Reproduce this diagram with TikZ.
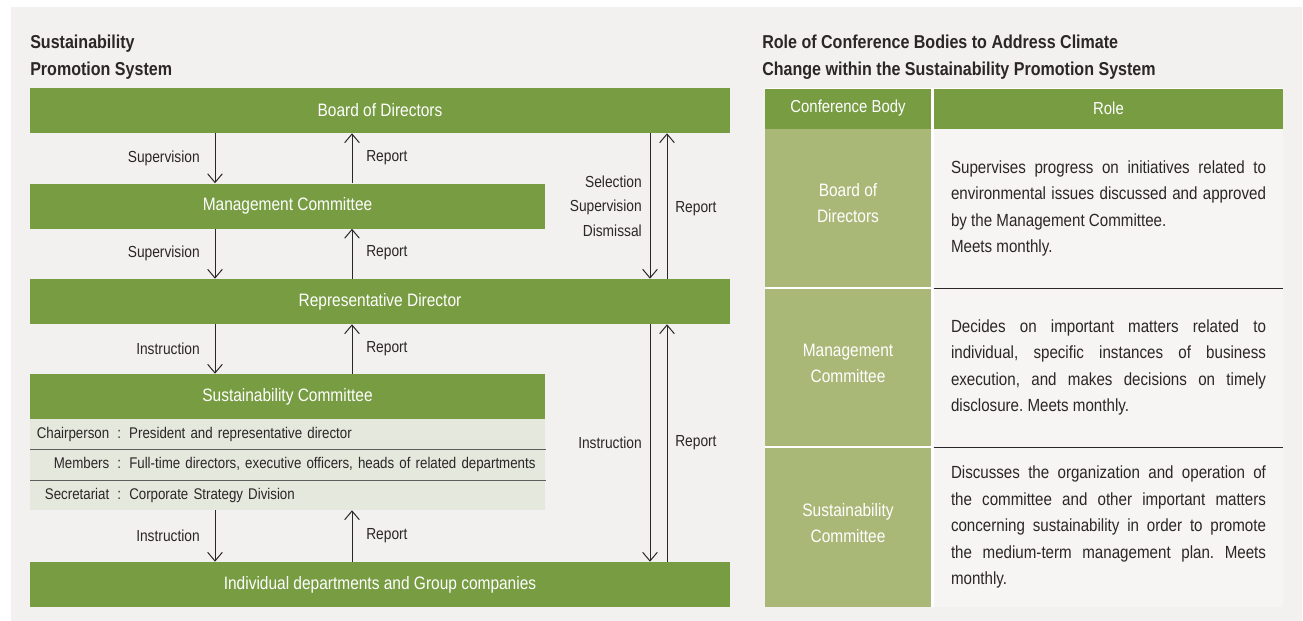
\documentclass[tikz,border=0pt]{standalone}
\usepackage{fontspec}
\setmainfont{Liberation Sans}[FakeStretch=0.86]
\usetikzlibrary{arrows.meta}
\definecolor{bargreen}{HTML}{779C42}
\definecolor{cellgreen}{HTML}{A9B877}
\definecolor{rowfill}{HTML}{E5E8DD}
\definecolor{bggray}{HTML}{F2F1EF}
\definecolor{rolebg}{HTML}{F6F5F3}
\definecolor{inkdark}{HTML}{2B2627}
\definecolor{rowline}{HTML}{5E5E5E}
\frenchspacing

\begin{document}
\begin{tikzpicture}[
    x=0.75pt, y=-0.75pt,
    every node/.style={font=\fontsize{12}{14}\selectfont, text=inkdark, inner sep=0pt},
    bar/.style={fill=bargreen, text=white, minimum height=33.75pt,
                font=\fontsize{13.5}{16}\selectfont},
    widebar/.style={bar, minimum width=525pt},
    halfbar/.style={bar, minimum width=386.25pt},
    memrow/.style={fill=rowfill, anchor=west, text width=386.25pt, align=left,
                   minimum height=22.5pt, font=\fontsize{11.6}{13}\selectfont},
    title/.style={anchor=north west, align=left, font=\fontsize{14}{20.25}\selectfont\bfseries},
    lbl/.style={anchor=east},
    rlbl/.style={anchor=west},
    head/.style={fill=bargreen, text=white, minimum height=30pt,
                 font=\fontsize{13}{15}\selectfont},
    body/.style={fill=cellgreen, minimum width=124.5pt},
    bodytext/.style={text=white, align=center, font=\fontsize{13.5}{19.5}\selectfont},
    role/.style={fill=rolebg, minimum width=261.75pt, text width=236.25pt, align=justify,
                 font=\fontsize{13.2}{19.9}\selectfont},
    arr/.style={-{Straight Barb[length=6.5pt,width=11pt]}, line width=0.75pt, draw=inkdark},
    sep/.style={line width=0.75pt, draw=inkdark},
    rowsep/.style={line width=0.75pt, draw=rowline}
]
\newcommand{\memlabel}[2]{\makebox[59.25pt][r]{#1}\makebox[15pt]{:}#2}
% canvas
\fill[white] (0,0) rectangle (1303,621);
\fill[bggray] (11,7) rectangle (1302,621);
\useasboundingbox (0,0) rectangle (1303,621);

% left: promotion system
\node[title] (ltitle) at (30,34.5) {Sustainability\\Promotion System};

\node[widebar] (board) at (380,110.5) {Board of Directors};
\node[halfbar] (mgmt) at (287.5,206) {Management Committee};
\node[widebar] (rep) at (380,301.5) {Representative Director};
\node[halfbar] (sust) at (287.5,396.5) {Sustainability Committee};
\node[memrow] (chair) at (30,434) {\memlabel{Chairperson}{President and representative director}};
\node[memrow, minimum height=23.25pt] (memb) at (30,464.5) {\memlabel{Members}{Full-time directors, executive officers, heads of related departments}};
\node[memrow] (secr) at (30,495) {\memlabel{Secretariat}{Corporate Strategy Division}};
\node[widebar] (indiv) at (380,584.5) {Individual departments and Group companies};

\draw[rowsep] (chair.south west) -- (chair.south east);
\draw[rowsep] (memb.south west) -- (memb.south east);

\coordinate (dn) at (215,0);
\coordinate (up) at (352,0);
\coordinate (rdn) at (650,0);
\coordinate (rup) at (667,0);

\draw[arr] (board.south -| dn) -- (mgmt.north -| dn);
\draw[arr] (mgmt.north -| up) -- (board.south -| up);
\draw[arr] (mgmt.south -| dn) -- (rep.north -| dn);
\draw[arr] (rep.north -| up) -- (mgmt.south -| up);
\draw[arr] (rep.south -| dn) -- (sust.north -| dn);
\draw[arr] (sust.north -| up) -- (rep.south -| up);
\draw[arr] (secr.south -| dn) -- (indiv.north -| dn);
\draw[arr] (indiv.north -| up) -- (secr.south -| up);

\draw[arr] (board.south -| rdn) -- (rep.north -| rdn);
\draw[arr] (rep.north -| rup) -- (board.south -| rup);
\draw[arr] (rep.south -| rdn) -- (indiv.north -| rdn);
\draw[arr] (indiv.north -| rup) -- (rep.south -| rup);

\node[lbl] (sup1) at (200,158) {Supervision};
\node[rlbl] (rpt1) at (366,158) {Report};
\node[lbl] (sup2) at (200,253) {Supervision};
\node[rlbl] (rpt2) at (366,253) {Report};
\node[lbl] (ins1) at (200,349) {Instruction};
\node[rlbl] (rpt3) at (366,349) {Report};
\node[lbl] (ins2) at (200,536) {Instruction};
\node[rlbl] (rpt4) at (366,536) {Report};

\node[lbl, align=right, font=\fontsize{12}{18.4}\selectfont] (ssd) at (642,206) {Selection\\Supervision\\Dismissal};
\node[rlbl] (rpt5) at (675,209) {Report};
\node[lbl] (ins3) at (642,443) {Instruction};
\node[rlbl] (rpt6) at (675,443) {Report};

% right: role table
\node[title] (rtitle) at (762,34.5) {Role of Conference Bodies to Address Climate\\Change within the Sustainability Promotion System};

\fill[white] (765,88) rectangle (1283,607);
\node[head, minimum width=124.5pt] (hbody) at (848,108.5) {Conference Body};
\node[head, minimum width=261.75pt] (hrole) at (1108.5,108.5) {Role};

\node[body, minimum height=118.5pt] (bboard) at (848,208) {};
\node[body, minimum height=117.75pt] (bmgmt) at (848,367.5) {};
\node[body, minimum height=119.25pt] (bsust) at (848,527.5) {};
\node[bodytext] (tboard) at ([yshift=3.5pt]bboard.center) {Board of\\Directors};
\node[bodytext] (tmgmt) at ([yshift=3pt]bmgmt.center) {Management\\Committee};
\node[bodytext] (tsust) at ([yshift=3pt]bsust.center) {Sustainability\\Committee};

\node[role, minimum height=119.25pt] (rboard) at (1108.5,208.5) {Supervises progress on initiatives related to\linebreak environmental issues discussed and approved\linebreak by the Management Committee.\\Meets monthly.};
\node[role, minimum height=119.25pt] (rmgmt) at (1108.5,367.5) {Decides on important matters related to\linebreak individual, specific instances of business\linebreak execution, and makes decisions on timely\linebreak disclosure. Meets monthly.};
\node[role, minimum height=120pt] (rsust) at (1108.5,527) {Discusses the organization and operation of\linebreak the committee and other important matters\linebreak concerning sustainability in order to promote\linebreak the medium-term management plan. Meets\linebreak monthly.};

\draw[sep] (rboard.south west) -- (rboard.south east);
\draw[sep] (rmgmt.south west) -- (rmgmt.south east);
\end{tikzpicture}
\end{document}
